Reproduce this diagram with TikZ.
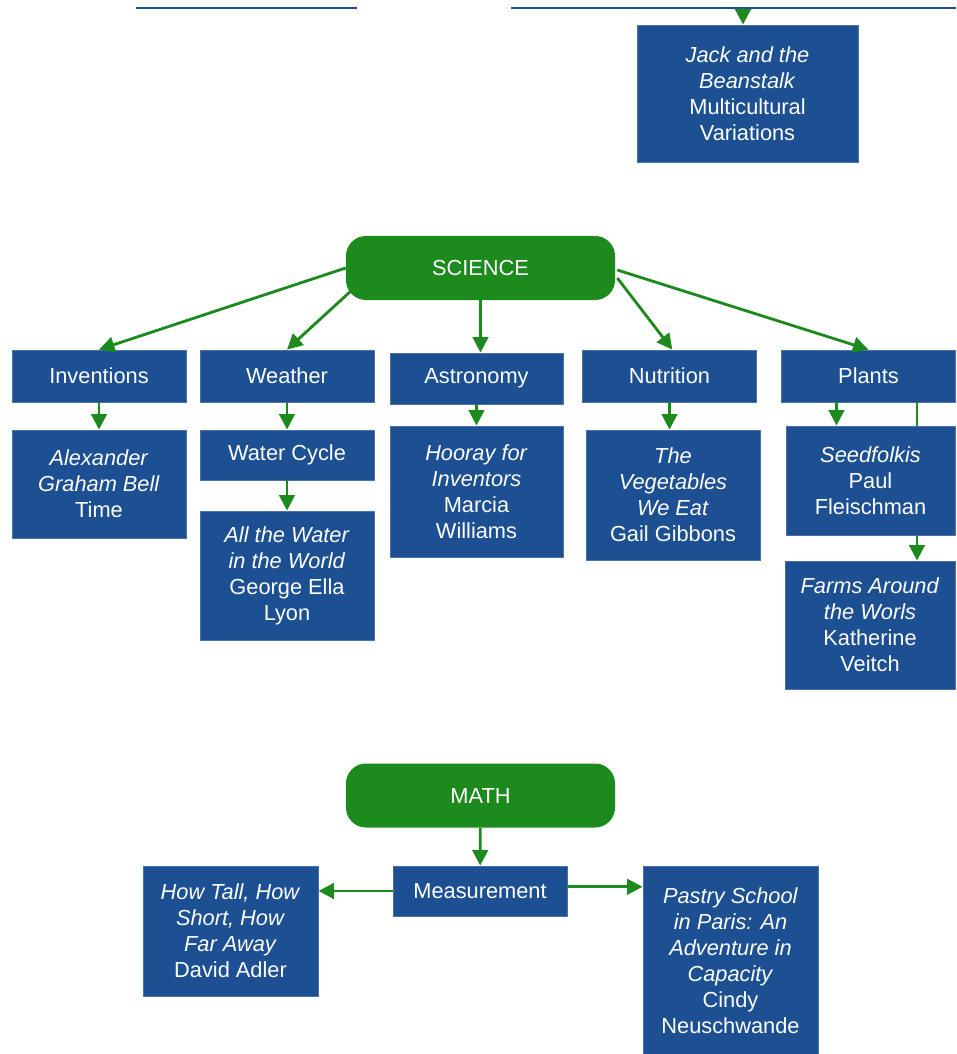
\documentclass[tikz,border=0pt]{standalone}
\usepackage{fontspec}
\setmainfont{Liberation Sans}
\usetikzlibrary{arrows.meta}
\definecolor{boxblue}{RGB}{28,80,146}
\definecolor{mapgreen}{RGB}{28,138,28}

\begin{document}
\begin{tikzpicture}[x=0.025cm,y=-0.025cm,>={Triangle[length=11pt,width=11pt]},line join=round,
    every node/.style={font=\fontsize{15.5}{18.5}\selectfont,text=white,align=center,inner sep=2pt},
    topic/.style={fill=mapgreen,rounded corners=0.5cm,minimum width=6.725cm,minimum height=1.6cm},
    catbox/.style={fill=boxblue,draw=boxblue!80!white,line width=0.6pt,minimum width=4.35cm,minimum height=1.3cm},
    arr/.style={->,mapgreen,line width=2pt}]
  \useasboundingbox (0,0) rectangle (956,1054);
  \clip (0,0) rectangle (956,1054);
% ================= top (cut off) =================
  \draw[boxblue,line width=1.6pt] (136,8) -- (357,8);
  \draw[boxblue,line width=1.6pt] (511,8) -- (956,8);
  \node[catbox,minimum width=5.525cm,minimum height=3.425cm] (jack) at (747.5,93.5)
      {\textit{Jack and the}\\\textit{Beanstalk}\\Multicultural\\Variations};
  \coordinate (jacktop) at (743,8);
  \draw[arr] (jacktop) -- (jacktop |- jack.north);
% ================= SCIENCE =================
  \node[topic] (science) at (480.5,268) {SCIENCE};
  \node[catbox] (inv)     at (99,376)    {Inventions};
  \node[catbox] (weather) at (287,376)   {Weather};
  \node[catbox,minimum width=4.325cm,minimum height=1.275cm] (astro) at (476.5,378.5) {Astronomy};
  \node[catbox] (nutri)   at (669.5,376) {Nutrition};
  \node[catbox] (plants)  at (868.5,376) {Plants};
  \draw[arr] (science.west) -- (inv.north);
  \draw[arr] ([shift={(6,-10)}]science.south west) -- (weather.north);
  \draw[arr] (science.south) -- (science.south |- astro.north);
  \draw[arr] ([shift={(2,10)}]science.east) -- ([xshift=2pt]nutri.north);
  \draw[arr] ([shift={(2,2)}]science.east) -- (plants.north);
  % second level
  \node[catbox,minimum height=2.7cm] (alex) at (99,484)
      {\textit{Alexander}\\\textit{Graham Bell}\\Time};
  \node[catbox,minimum height=1.25cm] (wcycle) at (287,455) {Water Cycle};
  \node[catbox,minimum height=3.225cm] (allwater) at (287,575.5)
      {\textit{All the Water}\\\textit{in the World}\\George Ella\\Lyon};
  \node[catbox,minimum width=4.325cm,minimum height=3.275cm] (hooray) at (476.5,491.5)
      {\textit{Hooray for}\\\textit{Inventors}\\Marcia\\Williams};
  \node[catbox,minimum height=3.25cm] (veg) at (673,495)
      {\textit{The}\\\textit{Vegetables}\\\textit{We Eat}\\Gail Gibbons};
  \node[catbox,minimum width=4.25cm,minimum height=3.2cm] (farms) at (870,625)
      {\textit{Farms Around}\\\textit{the Worls}\\Katherine\\Veitch};
  \draw[arr] ([shift={(48.5,0)}]plants.south) -- ([shift={(48.5,0)}]plants.south |- farms.north);
  \node[catbox,minimum width=4.225cm,minimum height=2.725cm] (seed) at (870.5,480.5)
      {\textit{Seedfolkis}\\Paul\\Fleischman};
  \draw[arr] (inv) -- (alex);
  \draw[arr] (weather) -- (wcycle);
  \draw[arr] (wcycle) -- (allwater);
  \draw[arr] (astro) -- (hooray);
  \draw[arr] (nutri.south) -- (nutri.south |- veg.north);
  \draw[arr] ([shift={(-32,0)}]plants.south) -- ([shift={(-32,0)}]plants.south |- seed.north);
% ================= MATH =================
  \node[topic] (math) at (480.5,795.5) {MATH};
  \node[catbox,minimum height=1.25cm] (meas) at (480,891) {Measurement};
  \node[catbox,minimum width=4.375cm,minimum height=3.25cm] (howtall) at (230.5,931)
      {\textit{How Tall, How}\\\textit{Short, How}\\\textit{Far Away}\\David Adler};
  \node[catbox,minimum width=4.375cm,minimum height=4.75cm] (pastry) at (730.5,961)
      {\textit{Pastry School}\\\textit{in Paris: An}\\\textit{Adventure in}\\\textit{Capacity}\\Cindy\\Neuschwande};
  \draw[arr] (math) -- (meas);
  \draw[arr] (meas.west) -- (meas.west -| howtall.east);
  \draw[arr] ([yshift=3pt]meas.east) -- ([yshift=3pt]meas.east -| pastry.west);
\end{tikzpicture}
\end{document}
